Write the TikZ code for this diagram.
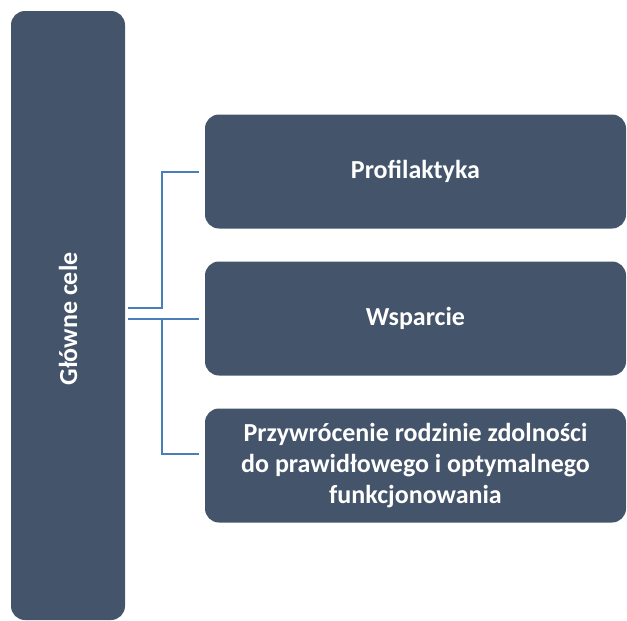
\documentclass[tikz,border=0pt]{standalone}
\usepackage{fontspec}
\setmainfont{Carlito}
\usetikzlibrary{calc}

\definecolor{slate}{HTML}{44546A}
\definecolor{linkblue}{HTML}{4A7EBB}

\begin{document}
\begin{tikzpicture}[x=1pt,y=-1pt,
    goal/.style={rectangle,rounded corners=14pt,fill=slate,text=white,
      font=\bfseries\fontsize{26}{31}\selectfont,align=center,inner sep=0pt},
    link/.style={draw=linkblue,line width=2pt}]
  \useasboundingbox (0,0) rectangle (627,621);

  \node[goal,minimum width=114pt,minimum height=609pt] (main) at (68,315.5) {};
  \node[rotate=90,text=white,font=\bfseries\fontsize{26}{31}\selectfont] (mainlabel) at ($(main.center)+(0,3.5)$) {Główne cele};

  \node[goal,minimum width=421pt,minimum height=114pt] (prof) at (415.5,171.5) {Profilaktyka};
  \node[goal,minimum width=421pt,minimum height=114pt] (wsp) at (415.5,318.5) {Wsparcie};
  \node[goal,minimum width=421pt,minimum height=114pt] (przyw) at (415.5,465.5)
    {Przywrócenie rodzinie zdolności\\do prawidłowego i optymalnego\\funkcjonowania};

  \coordinate (upper) at ($(main.east)+(3,-7.5)$);
  \coordinate (lower) at ($(main.east)+(3,3)$);
  \coordinate (fork) at (162,318.5);
  \coordinate (prof end) at ($(prof.west)+(-6,0)$);
  \coordinate (wsp end) at ($(wsp.west)+(-6,0)$);
  \coordinate (przyw end) at ($(przyw.north west)+(-6,46)$);

  \draw[link] (upper) -| (fork |- prof end) -- (prof end);
  \draw[link] (lower) -- (wsp end);
  \draw[link] (fork) |- (przyw end);
\end{tikzpicture}
\end{document}
